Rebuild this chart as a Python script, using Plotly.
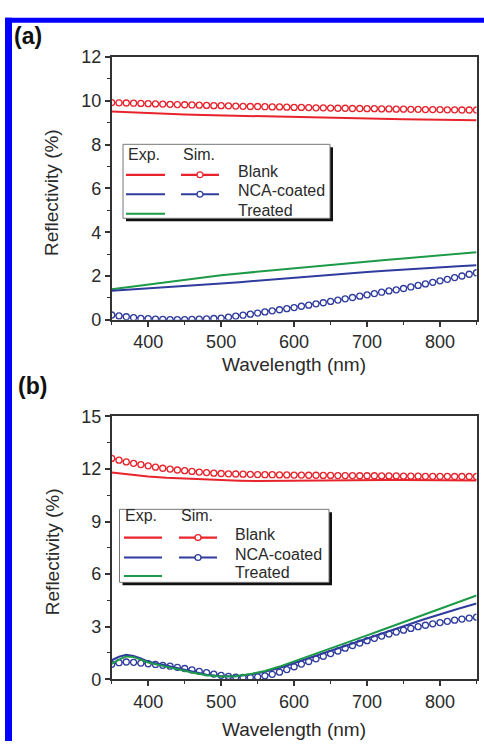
import plotly.graph_objects as go

# ---------------- data ----------------
wl_exp_a = [350, 375, 400, 425, 450, 475, 500, 525, 550, 575, 600, 625, 650, 675, 700, 725, 750, 775, 800, 825, 850]
blank_exp_a = [9.51, 9.47, 9.44, 9.41, 9.38, 9.35, 9.33, 9.31, 9.29, 9.27, 9.25, 9.23, 9.22, 9.20, 9.19, 9.17, 9.16, 9.15, 9.14, 9.12, 9.11]
nca_exp_a = [1.33, 1.38, 1.43, 1.48, 1.54, 1.60, 1.66, 1.72, 1.79, 1.86, 1.93, 2.00, 2.06, 2.12, 2.18, 2.24, 2.30, 2.35, 2.40, 2.45, 2.49]
treated_exp_a = [1.40, 1.51, 1.62, 1.73, 1.84, 1.94, 2.03, 2.12, 2.20, 2.28, 2.35, 2.43, 2.50, 2.58, 2.66, 2.73, 2.80, 2.87, 2.95, 3.02, 3.09]

wl_sim = [350, 360, 370, 380, 390, 400, 410, 420, 430, 440, 450, 460, 470, 480, 490, 500, 510, 520, 530, 540,
          550, 560, 570, 580, 590, 600, 610, 620, 630, 640, 650, 660, 670, 680, 690, 700, 710, 720, 730, 740,
          750, 760, 770, 780, 790, 800, 810, 820, 830, 840, 850]
blank_sim_a = [9.92, 9.91, 9.90, 9.89, 9.88, 9.87, 9.86, 9.85, 9.84, 9.83, 9.82, 9.81, 9.80, 9.79, 9.78, 9.78, 9.77, 9.76, 9.75, 9.74,
               9.74, 9.73, 9.72, 9.72, 9.71, 9.70, 9.70, 9.69, 9.68, 9.68, 9.67, 9.66, 9.66, 9.65, 9.65, 9.64, 9.64, 9.63, 9.63, 9.62,
               9.62, 9.61, 9.61, 9.60, 9.60, 9.60, 9.59, 9.59, 9.58, 9.58, 9.58]
nca_sim_a = [0.22, 0.18, 0.14, 0.10, 0.07, 0.05, 0.03, 0.02, 0.01, 0.01, 0.01, 0.02, 0.03, 0.04, 0.06, 0.08, 0.12, 0.17, 0.21, 0.26,
             0.31, 0.36, 0.41, 0.46, 0.51, 0.56, 0.62, 0.67, 0.73, 0.78, 0.84, 0.90, 0.96, 1.02, 1.08, 1.14, 1.20, 1.26, 1.32, 1.37,
             1.43, 1.50, 1.57, 1.64, 1.71, 1.78, 1.85, 1.93, 2.00, 2.08, 2.15]

wl_exp_b_blank = [350, 375, 400, 425, 450, 475, 500, 525, 550, 575, 600, 625, 650, 675, 700, 725, 750, 775, 800, 825, 850]
blank_exp_b = [11.80, 11.68, 11.57, 11.50, 11.45, 11.41, 11.37, 11.33, 11.31, 11.32, 11.35, 11.37, 11.38, 11.38, 11.38, 11.37, 11.37, 11.36, 11.35, 11.35, 11.34]
wl_exp_b = [350, 360, 370, 380, 390, 400, 420, 440, 460, 480, 500, 520, 540, 560, 580, 600, 625, 650, 675, 700, 725, 750, 775, 800, 825, 850]
nca_exp_b = [1.08, 1.28, 1.39, 1.33, 1.18, 1.00, 0.82, 0.62, 0.43, 0.26, 0.17, 0.17, 0.27, 0.43, 0.64, 0.92, 1.24, 1.58, 1.93, 2.28, 2.65, 3.02, 3.38, 3.72, 4.02, 4.32]
treated_exp_b = [0.88, 1.12, 1.30, 1.26, 1.12, 0.95, 0.76, 0.56, 0.38, 0.23, 0.15, 0.17, 0.29, 0.47, 0.72, 1.02, 1.38, 1.74, 2.12, 2.50, 2.88, 3.26, 3.64, 4.02, 4.40, 4.78]
blank_sim_b = [12.60, 12.50, 12.40, 12.32, 12.25, 12.18, 12.10, 12.04, 11.99, 11.94, 11.90, 11.86, 11.82, 11.79, 11.76, 11.74, 11.72, 11.71, 11.70, 11.69,
               11.68, 11.67, 11.67, 11.66, 11.66, 11.65, 11.65, 11.64, 11.64, 11.63, 11.63, 11.62, 11.62, 11.62, 11.61, 11.61, 11.61, 11.60, 11.60, 11.60,
               11.59, 11.59, 11.59, 11.58, 11.58, 11.58, 11.58, 11.57, 11.57, 11.57, 11.57]
nca_sim_b = [0.85, 0.94, 0.98, 0.96, 0.92, 0.88, 0.84, 0.79, 0.74, 0.68, 0.61, 0.53, 0.45, 0.37, 0.29, 0.22, 0.16, 0.12, 0.10, 0.10,
             0.13, 0.19, 0.28, 0.40, 0.55, 0.71, 0.86, 1.01, 1.16, 1.31, 1.46, 1.61, 1.77, 1.92, 2.06, 2.20, 2.33, 2.46, 2.58, 2.69,
             2.80, 2.90, 3.00, 3.08, 3.16, 3.23, 3.30, 3.37, 3.43, 3.49, 3.54]

x_ticks = [400, 500, 600, 700, 800]
legend_labels = ["Blank", "NCA-coated", "Treated"]
panel_labels = ["(a)", "(b)"]
x_title = "Wavelength (nm)"
y_title = "Reflectivity (%)"

RED = "#e8232b"
BLUE = "#2f3c9e"
GREEN = "#1c9a48"
TXT = "#2a2a2a"
AX = "#333333"
W, H = 484, 751
FONT = "Arial, Liberation Sans, sans-serif"
TEXT_DY = -3.5  # optical correction for text vertical centring

def px(x):
    return x / W

def py(y):
    return 1 - y / H

fig = go.Figure()

def exp_line(x, y, color, xa, ya, width=2):
    fig.add_trace(go.Scatter(x=x, y=y, mode="lines", line=dict(color=color, width=width),
                             xaxis=xa, yaxis=ya, showlegend=False))

def sim_line(x, y, color, xa, ya):
    fig.add_trace(go.Scatter(x=x, y=y, mode="lines+markers", line=dict(color=color, width=1.3),
                             marker=dict(symbol="circle", size=6, color="white",
                                         line=dict(color=color, width=1.3)),
                             xaxis=xa, yaxis=ya, showlegend=False))

# panel (a)
exp_line(wl_exp_a, blank_exp_a, RED, "x", "y")
exp_line(wl_exp_a, treated_exp_a, GREEN, "x", "y")
exp_line(wl_exp_a, nca_exp_a, BLUE, "x", "y")
sim_line(wl_sim, blank_sim_a, RED, "x", "y")
sim_line(wl_sim, nca_sim_a, BLUE, "x", "y")

# panel (b)
exp_line(wl_exp_b_blank, blank_exp_b, RED, "x2", "y2")
sim_line(wl_sim, blank_sim_b, RED, "x2", "y2")
sim_line(wl_sim, nca_sim_b, BLUE, "x2", "y2")
exp_line(wl_exp_b, nca_exp_b, BLUE, "x2", "y2")
exp_line(wl_exp_b, treated_exp_b, GREEN, "x2", "y2")

xdom = [px(111.7), px(476.5)]
dom_a = [py(318.3), py(48.3)]
dom_b = [py(687.5), py(417.5)]

def xaxis(anchor):
    return dict(domain=xdom, anchor=anchor, range=[350, 850], tickvals=x_ticks,
                showline=True, mirror=True, linecolor=AX, linewidth=1.6,
                ticks="outside", ticklen=5, tickwidth=1.5, tickcolor=AX,
                minor=dict(dtick=50, tick0=350, ticks="outside", ticklen=3, tickwidth=1.2, tickcolor=AX),
                showgrid=False, zeroline=False,
                tickfont=dict(family=FONT, size=18, color=TXT))

def yaxis(anchor, dom, rng, dt):
    return dict(domain=dom, anchor=anchor, range=rng, dtick=dt, tick0=0,
                showline=True, mirror=True, linecolor=AX, linewidth=1.6,
                ticks="outside", ticklen=5, tickwidth=1.5, tickcolor=AX,
                minor=dict(dtick=dt / 2, tick0=0, ticks="outside", ticklen=3, tickwidth=1.2, tickcolor=AX),
                showgrid=False, zeroline=False,
                tickfont=dict(family=FONT, size=18, color=TXT))

shapes = []
annotations = []

# blue frame (top and left)
shapes.append(dict(type="rect", xref="paper", yref="paper", x0=px(5), x1=px(12), y0=0, y1=py(8),
                   fillcolor="#0000ff", line=dict(width=0), layer="above"))
shapes.append(dict(type="rect", xref="paper", yref="paper", x0=px(5), x1=1, y0=py(13), y1=py(8),
                   fillcolor="#0000ff", line=dict(width=0), layer="above"))

def add_text(text, x, y, size, anchor="left", color=TXT, angle=0):
    annotations.append(dict(text=text, x=px(x), y=py(y + (TEXT_DY if angle == 0 else 0)),
                            xref="paper", yref="paper", xanchor=anchor, yanchor="middle",
                            showarrow=False, textangle=angle,
                            font=dict(family=FONT, size=size, color=color)))

def legend(x0, y0, x1, y1, rows_y, head_y, exp_x, sim_x, text_x, exp_head_x, sim_head_x):
    # shadow
    shapes.append(dict(type="rect", xref="paper", yref="paper", x0=px(x0 + 3), x1=px(x1 + 3),
                       y0=py(y1 + 3), y1=py(y0 + 3), fillcolor="#111111", line=dict(width=0)))
    shapes.append(dict(type="rect", xref="paper", yref="paper", x0=px(x0), x1=px(x1),
                       y0=py(y1), y1=py(y0), fillcolor="white", line=dict(color="#777777", width=1)))
    add_text("Exp.", exp_head_x, head_y, 16)
    add_text("Sim.", sim_head_x, head_y, 16)
    cols = [RED, BLUE, GREEN]
    for i, (lab, c, ry) in enumerate(zip(legend_labels, cols, rows_y)):
        shapes.append(dict(type="line", xref="paper", yref="paper", x0=px(exp_x[0]), x1=px(exp_x[1]),
                           y0=py(ry), y1=py(ry), line=dict(color=c, width=2.2)))
        if i < 2:
            shapes.append(dict(type="line", xref="paper", yref="paper", x0=px(sim_x[0]), x1=px(sim_x[1]),
                               y0=py(ry), y1=py(ry), line=dict(color=c, width=2.2)))
            cx = (sim_x[0] + sim_x[1]) / 2
            shapes.append(dict(type="circle", xref="paper", yref="paper", x0=px(cx - 3), x1=px(cx + 3),
                               y0=py(ry + 3), y1=py(ry - 3), fillcolor="white", line=dict(color=c, width=1.3)))
        add_text(lab, text_x, ry, 16)

legend(123, 138, 330, 214, [169.3, 189.3, 209.3], 151.7, (126, 165), (181, 219), 236, 126, 181)
legend(119.5, 513, 329, 588, [542, 562.5, 581.5], 523, (124, 162), (179, 217), 233, 123, 179)

# panel labels
add_text("<b>" + panel_labels[0] + "</b>", 12, 30, 23, color="#111111")
add_text("<b>" + panel_labels[1] + "</b>", 16, 390, 23, color="#111111")

# axis titles
for yc_t, yc_y in [(367.5, 188), (742.5, 557)]:
    add_text(x_title, 294, yc_t, 19, anchor="center")
    add_text(y_title, 52, yc_y, 19, anchor="center", angle=-90)

fig.update_layout(
    width=W, height=H,
    margin=dict(l=0, r=0, t=0, b=0),
    paper_bgcolor="white", plot_bgcolor="white",
    xaxis=xaxis("y"), yaxis=yaxis("x", dom_a, [0, 12], 2),
    xaxis2=xaxis("y2"), yaxis2=yaxis("x2", dom_b, [0, 15], 3),
    shapes=shapes, annotations=annotations,
    showlegend=False,
)

fig.write_html("out.html", config={"displayModeBar": False},
               post_script="document.body.style.margin='0';document.body.style.padding='0';"
                           "document.body.style.overflow='hidden';")
